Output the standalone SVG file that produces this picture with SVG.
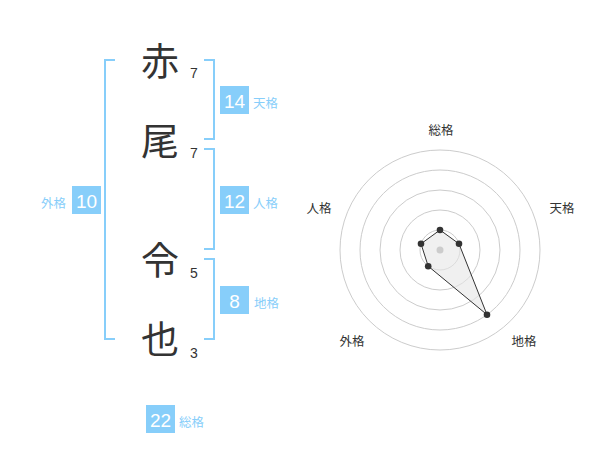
<svg xmlns="http://www.w3.org/2000/svg" width="600" height="470" viewBox="0 0 600 470">
<style>
.kanji{font-family:"Noto Sans CJK JP","Noto Sans CJK SC",sans-serif;font-size:38px;fill:#333;text-anchor:middle}
.num{font-family:"Liberation Sans",Arial,sans-serif;font-size:14px;fill:#333}
.box{fill:#87cefa}
.boxnum{font-family:"Liberation Sans",Arial,sans-serif;font-size:19px;fill:#fff;text-anchor:middle}
.lbl{font-family:"Noto Sans CJK JP","Noto Sans CJK SC",sans-serif;font-size:12.5px;fill:#87cefa}
.br{fill:none;stroke:#87cefa;stroke-width:2}
.ring{fill:none;stroke:#cccccc;stroke-width:1}
.rl{font-family:"Noto Sans CJK JP","Noto Sans CJK SC",sans-serif;font-size:12.5px;fill:#333;text-anchor:middle}
.dot{fill:#333}
</style>
<rect width="600" height="470" fill="#fff"/>
<g id="connectors">
<path class="br" d="M115,60 H105 V339 H115"/>
<path class="br" d="M204,60 H214 V139 H204"/>
<path class="br" d="M204,149 H214 V249 H204"/>
<path class="br" d="M204,259 H214 V339 H204"/>
</g>
<g id="char1"><text class="kanji" x="160" y="75">赤</text><text class="num" x="190" y="78">7</text></g>
<g id="char2"><text class="kanji" x="160" y="155">尾</text><text class="num" x="190" y="158">7</text></g>
<g id="char3"><text class="kanji" x="160" y="274">令</text><text class="num" x="190" y="278">5</text></g>
<g id="char4"><text class="kanji" x="160" y="353">也</text><text class="num" x="190" y="358">3</text></g>
<g id="tenkaku"><rect class="box" x="220" y="86" width="29" height="28"/><text class="boxnum" x="234.5" y="108">14</text><text class="lbl" x="253" y="108">天格</text></g>
<g id="jinkaku"><rect class="box" x="220" y="186" width="29" height="28"/><text class="boxnum" x="234.5" y="208">12</text><text class="lbl" x="253" y="208">人格</text></g>
<g id="chikaku"><rect class="box" x="220" y="286" width="29" height="28"/><text class="boxnum" x="234.5" y="308">8</text><text class="lbl" x="254" y="308">地格</text></g>
<g id="gaikaku"><rect class="box" x="72" y="186" width="29" height="28"/><text class="boxnum" x="86.5" y="208">10</text><text class="lbl" x="41" y="208">外格</text></g>
<g id="soukaku"><rect class="box" x="146" y="405" width="29" height="28"/><text class="boxnum" x="160.5" y="427">22</text><text class="lbl" x="179" y="427">総格</text></g>
<g id="radar">
<circle class="ring" cx="440" cy="250" r="100"/>
<circle class="ring" cx="440" cy="250" r="80"/>
<circle class="ring" cx="440" cy="250" r="60"/>
<circle class="ring" cx="440" cy="250" r="40"/>
<circle class="ring" cx="440" cy="250" r="20"/>
<polygon points="440,230 459,243.8 487,314.7 428.2,266.2 421,243.8" fill="#e6e6e6" fill-opacity="0.6" stroke="#333" stroke-width="1"/>
<circle cx="440" cy="250" r="3.5" fill="#cccccc"/>
<circle class="dot" cx="440" cy="230" r="3.3"/>
<circle class="dot" cx="459" cy="243.8" r="3.3"/>
<circle class="dot" cx="487" cy="314.7" r="3.3"/>
<circle class="dot" cx="428.2" cy="266.2" r="3.3"/>
<circle class="dot" cx="421" cy="243.8" r="3.3"/>
<text class="rl" x="441" y="135">総格</text>
<text class="rl" x="562" y="213">天格</text>
<text class="rl" x="319" y="213">人格</text>
<text class="rl" x="352" y="346">外格</text>
<text class="rl" x="524" y="346">地格</text>
</g>
</svg>
